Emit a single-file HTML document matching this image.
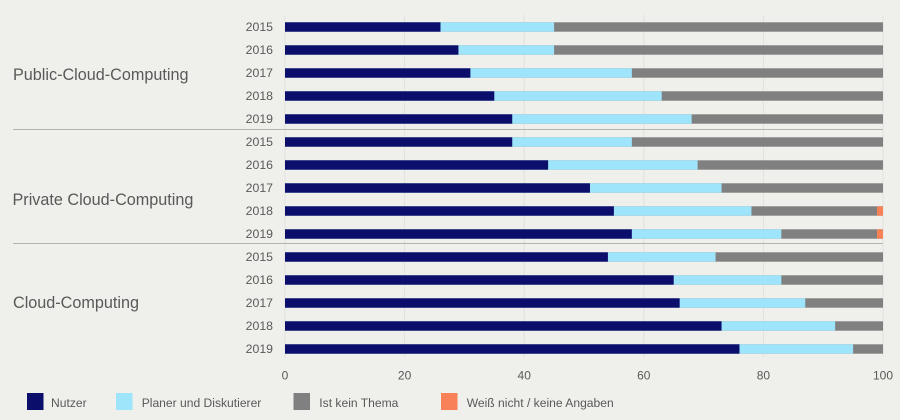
<!DOCTYPE html>
<html><head><meta charset="utf-8"><style>
html,body{margin:0;padding:0;background:#efefeb;}
svg{display:block;}
text{font-family:"Liberation Sans",Arial,sans-serif;fill:#595959;}
</style></head><body>
<svg width="900" height="420" viewBox="0 0 900 420" xmlns="http://www.w3.org/2000/svg">
<rect width="900" height="420" fill="#efefeb"/>
<g stroke="#e0e0dc" stroke-width="1">
<line x1="285" y1="15" x2="285" y2="357"/>
<line x1="404.6" y1="15" x2="404.6" y2="357"/>
<line x1="524.2" y1="15" x2="524.2" y2="357"/>
<line x1="643.8" y1="15" x2="643.8" y2="357"/>
<line x1="763.4" y1="15" x2="763.4" y2="357"/>
<line x1="883" y1="15" x2="883" y2="357"/>
</g>
<g stroke="#b3b3b0" stroke-width="1">
<line x1="13" y1="129.5" x2="883" y2="129.5"/>
<line x1="13" y1="243.5" x2="883" y2="243.5"/>
</g>
<g>
<!-- grey base -->
<g fill="#808080">
<rect x="285" y="22.3" width="598" height="9.4"/>
<rect x="285" y="45.3" width="598" height="9.4"/>
<rect x="285" y="68.3" width="598" height="9.4"/>
<rect x="285" y="91.3" width="598" height="9.4"/>
<rect x="285" y="114.3" width="598" height="9.4"/>
<rect x="285" y="137.3" width="598" height="9.4"/>
<rect x="285" y="160.3" width="598" height="9.4"/>
<rect x="285" y="183.3" width="598" height="9.4"/>
<rect x="285" y="206.3" width="598" height="9.4"/>
<rect x="285" y="229.3" width="598" height="9.4"/>
<rect x="285" y="252.3" width="598" height="9.4"/>
<rect x="285" y="275.3" width="598" height="9.4"/>
<rect x="285" y="298.3" width="598" height="9.4"/>
<rect x="285" y="321.3" width="598" height="9.4"/>
<rect x="285" y="344.3" width="598" height="9.4"/>
</g>
<g fill="#9ee5fb">
<rect x="285" y="22.3" width="269.1" height="9.4"/>
<rect x="285" y="45.3" width="269.1" height="9.4"/>
<rect x="285" y="68.3" width="346.84" height="9.4"/>
<rect x="285" y="91.3" width="376.74" height="9.4"/>
<rect x="285" y="114.3" width="406.64" height="9.4"/>
<rect x="285" y="137.3" width="346.84" height="9.4"/>
<rect x="285" y="160.3" width="412.62" height="9.4"/>
<rect x="285" y="183.3" width="436.54" height="9.4"/>
<rect x="285" y="206.3" width="466.44" height="9.4"/>
<rect x="285" y="229.3" width="496.34" height="9.4"/>
<rect x="285" y="252.3" width="430.56" height="9.4"/>
<rect x="285" y="275.3" width="496.34" height="9.4"/>
<rect x="285" y="298.3" width="520.26" height="9.4"/>
<rect x="285" y="321.3" width="550.16" height="9.4"/>
<rect x="285" y="344.3" width="568.1" height="9.4"/>
</g>
<g fill="#0b0f6b">
<rect x="285" y="22.3" width="155.48" height="9.4"/>
<rect x="285" y="45.3" width="173.42" height="9.4"/>
<rect x="285" y="68.3" width="185.38" height="9.4"/>
<rect x="285" y="91.3" width="209.3" height="9.4"/>
<rect x="285" y="114.3" width="227.24" height="9.4"/>
<rect x="285" y="137.3" width="227.24" height="9.4"/>
<rect x="285" y="160.3" width="263.12" height="9.4"/>
<rect x="285" y="183.3" width="304.98" height="9.4"/>
<rect x="285" y="206.3" width="328.9" height="9.4"/>
<rect x="285" y="229.3" width="346.84" height="9.4"/>
<rect x="285" y="252.3" width="322.92" height="9.4"/>
<rect x="285" y="275.3" width="388.7" height="9.4"/>
<rect x="285" y="298.3" width="394.68" height="9.4"/>
<rect x="285" y="321.3" width="436.54" height="9.4"/>
<rect x="285" y="344.3" width="454.48" height="9.4"/>
</g>
<g fill="#f98157">
<rect x="877.02" y="206.3" width="5.98" height="9.4"/>
<rect x="877.02" y="229.3" width="5.98" height="9.4"/>
</g>
</g>
<g font-size="12.3" text-anchor="end">
<text x="273" y="30.8">2015</text>
<text x="273" y="53.8">2016</text>
<text x="273" y="76.8">2017</text>
<text x="273" y="99.8">2018</text>
<text x="273" y="122.8">2019</text>
<text x="273" y="145.8">2015</text>
<text x="273" y="168.8">2016</text>
<text x="273" y="191.8">2017</text>
<text x="273" y="214.8">2018</text>
<text x="273" y="237.8">2019</text>
<text x="273" y="260.8">2015</text>
<text x="273" y="283.8">2016</text>
<text x="273" y="306.8">2017</text>
<text x="273" y="329.8">2018</text>
<text x="273" y="352.8">2019</text>
</g>
<g font-size="16.2">
<text x="13" y="80">Public-Cloud-Computing</text>
<text x="12.5" y="205">Private Cloud-Computing</text>
<text x="13" y="308">Cloud-Computing</text>
</g>
<g font-size="12" text-anchor="middle">
<text x="285" y="379.3">0</text>
<text x="404.6" y="379.3">20</text>
<text x="524.2" y="379.3">40</text>
<text x="643.8" y="379.3">60</text>
<text x="763.4" y="379.3">80</text>
<text x="883" y="379.3">100</text>
</g>
<rect x="27" y="393" width="16.5" height="17" fill="#0b0f6b"/>
<rect x="116" y="393" width="16.5" height="17" fill="#9ee5fb"/>
<rect x="293.5" y="393" width="16.5" height="17" fill="#808080"/>
<rect x="441" y="393" width="16.5" height="17" fill="#f98157"/>
<g font-size="12.1">
<text x="51" y="407">Nutzer</text>
<text x="141.7" y="407">Planer und Diskutierer</text>
<text x="319.3" y="407">Ist kein Thema</text>
<text x="466.7" y="407">Weiß nicht / keine Angaben</text>
</g>
</svg>
</body></html>
